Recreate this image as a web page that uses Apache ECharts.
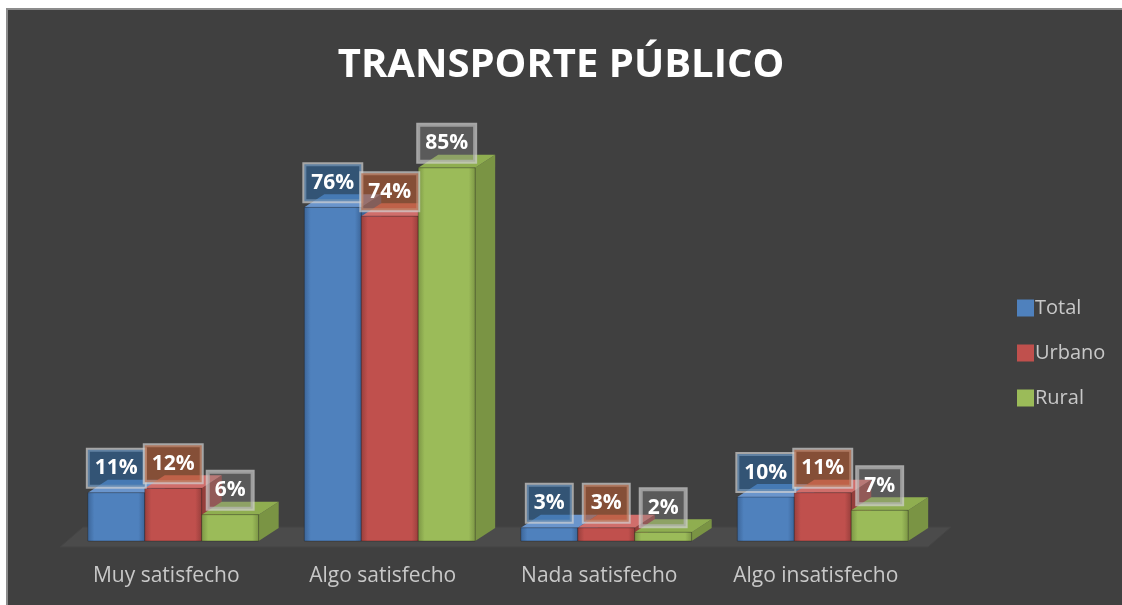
<!DOCTYPE html>
<html lang="es">
<head>
    <meta charset="UTF-8">
    <title>Transporte público</title>
    <style>
        html,body{
            margin: 0;
            width: 100%;
            height: 100%;
            background: #fff;
        }
        #chart{
            width: 1122px;
            height: 605px;
        }
    </style>
</head>
<body>
<div id="chart"></div>
<script src="https://cdn.jsdelivr.net/npm/echarts@6/dist/echarts.min.js"></script>
<script type="text/javascript">
    var categories = ['Muy satisfecho', 'Algo satisfecho', 'Nada satisfecho', 'Algo insatisfecho'];
    var total = [11, 76, 3, 10];
    var urbano = [12, 74, 3, 11];
    var rural = [6, 85, 2, 7];

    var barColors = ['#4f81bd', '#c0504d', '#9bbb59'];
    var sideColors = ['#3b6497', '#963e3b', '#7a9444'];
    var topColors = ['#6a95cc', '#d06e6b', '#8fae50'];
    var boxColors = ['rgba(40,100,160,0.55)', 'rgba(180,90,50,0.6)', 'rgba(140,140,140,0.35)'];

    var DX = 20, DY = 13;

    function boxRenderer(idx) {
        return function (params, api) {
            var cat = api.value(0), val = api.value(1);
            var base = api.coord([cat, 0]);
            var top = api.coord([cat, val]);
            var band = api.size([1, 0])[0];
            var bw = band * 0.263;
            var cx = base[0] + (idx - 1) * bw;
            var x0 = cx - bw / 2, x1 = cx + bw / 2;
            var yb = base[1], yt = top[1];
            var z = idx * 10;
            return {
                type: 'group',
                children: [
                    {
                        type: 'polygon', z2: z,
                        shape: {points: [[x1, yb], [x1 + DX, yb - DY], [x1 + DX, yt - DY], [x1, yt]]},
                        style: {fill: sideColors[idx]}
                    },
                    {
                        type: 'polygon', z2: z + 1,
                        shape: {points: [[x0, yt], [x0 + DX, yt - DY], [x1 + DX, yt - DY], [x1, yt]]},
                        style: {fill: topColors[idx]}
                    },
                    {
                        type: 'rect', z2: z + 2,
                        shape: {x: x0, y: yt, width: bw, height: yb - yt},
                        style: {
                            fill: new echarts.graphic.LinearGradient(0, 0, 1, 0, [
                                {offset: 0, color: sideColors[idx]},
                                {offset: 0.12, color: barColors[idx]},
                                {offset: 0.88, color: barColors[idx]},
                                {offset: 1, color: sideColors[idx]}
                            ]),
                            stroke: 'rgba(0,0,0,0.25)', lineWidth: 1
                        }
                    },
                    {
                        type: 'text', z2: 200,
                        x: cx, y: yt - 6,
                        style: {
                            text: val + '%',
                            fill: '#fff',
                            font: 'bold 21px "Open Sans", sans-serif',
                            align: 'center',
                            verticalAlign: 'bottom',
                            backgroundColor: boxColors[idx],
                            borderColor: 'rgba(210,210,210,0.7)',
                            borderWidth: 2,
                            padding: [8, 7, 8, 7]
                        }
                    }
                ]
            };
        };
    }

    function floorRenderer(params, api) {
        var band = api.size([1, 0])[0];
        var left = api.coord([0, 0])[0] - band / 2 - 5;
        var right = api.coord([categories.length - 1, 0])[0] + band / 2 - 3;
        var y = api.coord([0, 0])[1] + 6;
        return {
            type: 'polygon',
            shape: {points: [[left, y], [left + 23, y - 20], [right + 23, y - 20], [right, y]]},
            style: {fill: '#4b4b4b', stroke: '#454545', lineWidth: 1}
        };
    }

    function toData(arr) {
        return arr.map(function (v, i) { return [i, v]; });
    }

    var myChart = echarts.init(document.getElementById('chart'));
    var option = {
        backgroundColor: '#fff',
        animation: false,
        color: barColors,
        graphic: [{
            type: 'rect', z: -10,
            shape: {x: 7, y: 9, width: 1120, height: 600},
            style: {fill: '#404040', stroke: '#8c8c8c', lineWidth: 2}
        }],
        title: {
            text: 'TRANSPORTE PÚBLICO',
            left: 'center',
            top: 41,
            textStyle: {
                color: '#fff',
                fontSize: 40,
                fontWeight: 'bold',
                fontFamily: 'Open Sans'
            }
        },
        legend: {
            orient: 'vertical',
            left: 1012,
            top: 293,
            itemGap: 25,
            itemWidth: 17,
            itemHeight: 17,
            icon: 'rect',
            data: ['Total', 'Urbano', 'Rural'],
            textStyle: {color: '#c8c8c8', fontSize: 20, fontFamily: 'Open Sans', padding: [0, 0, 0, -4]}
        },
        grid: {left: 65, width: 866, top: 102, bottom: 64},
        xAxis: {
            type: 'category',
            data: categories,
            axisLine: {show: false},
            axisTick: {show: false},
            axisLabel: {
                color: '#c8c8c8',
                fontSize: 21,
                fontFamily: 'Open Sans',
                margin: 25,
                padding: [0, 14, 0, 0]
            }
        },
        yAxis: {type: 'value', min: 0, max: 100, show: false},
        series: [
            {name: 'floor', type: 'custom', z: 1, data: [[0, 0]], renderItem: floorRenderer, silent: true},
            {name: 'Total', type: 'custom', z: 2, data: toData(total), renderItem: boxRenderer(0), itemStyle: {color: barColors[0]}},
            {name: 'Urbano', type: 'custom', z: 2, data: toData(urbano), renderItem: boxRenderer(1), itemStyle: {color: barColors[1]}},
            {name: 'Rural', type: 'custom', z: 2, data: toData(rural), renderItem: boxRenderer(2), itemStyle: {color: barColors[2]}}
        ]
    };
    myChart.setOption(option);
</script>
</body>
</html>
